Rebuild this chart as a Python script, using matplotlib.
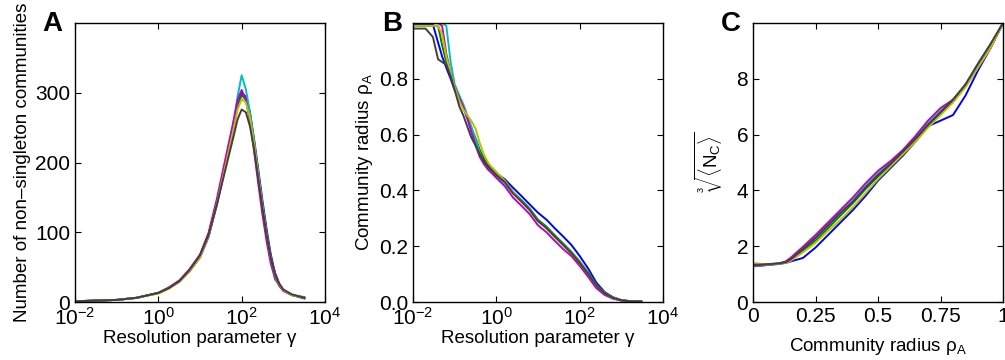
import numpy as np
import matplotlib
matplotlib.use('Agg')
import matplotlib.pyplot as plt
from matplotlib.ticker import LogLocator, LogFormatterMathtext, NullLocator

plt.rcParams['font.family'] = ['Liberation Sans', 'DejaVu Sans']
plt.rcParams['mathtext.fontset'] = 'custom'
plt.rcParams['mathtext.rm'] = 'Liberation Sans'
plt.rcParams['mathtext.it'] = 'Liberation Sans:italic'
plt.rcParams['mathtext.bf'] = 'Liberation Sans:bold'

# MATLAB-ish line colours, one per run
colors = {'blue': (0, 0, 1), 'green': (0, 0.5, 0), 'cyan': (0, 0.75, 0.75),
          'magenta': (0.75, 0, 0.75), 'yellow': (0.75, 0.75, 0), 'black': (0.25, 0.25, 0.25)}

# ---- panel A: number of non-singleton communities vs gamma
gamma_a = [0.01, 0.03, 0.1, 0.3, 1, 1.8, 3.2, 5.6, 10, 16, 25, 40, 63, 80, 100, 126,
           158, 200, 250, 316, 400, 500, 630, 800, 1000, 1600, 3200]
a_blue = [1, 2, 3, 6, 13, 20, 29, 44, 64, 93, 138, 192, 248, 280, 300, 294, 272, 232, 190, 145, 103, 68, 42, 26, 17, 10, 5]
a_green = [1, 2, 3, 6, 13, 20, 30, 45, 66, 96, 141, 196, 250, 281, 297, 290, 266, 226, 182, 137, 96, 62, 38, 24, 16, 10, 6]
a_cyan = [1, 2, 3, 6, 13, 20, 30, 45, 65, 95, 140, 196, 255, 295, 325, 305, 272, 228, 182, 136, 94, 60, 32, 26, 17, 10, 6]
a_magenta = [1, 2, 3, 6, 13, 21, 31, 47, 68, 99, 146, 203, 258, 290, 304, 290, 260, 215, 170, 125, 86, 55, 35, 23, 16, 10, 7]
a_yellow = [1, 2, 3, 6, 12, 19, 29, 44, 64, 94, 139, 193, 246, 276, 291, 286, 264, 226, 183, 138, 97, 63, 39, 25, 17, 10, 6]
a_black = [1, 2, 3, 6, 13, 20, 30, 46, 67, 96, 138, 188, 236, 262, 276, 272, 252, 218, 177, 134, 95, 63, 40, 26, 18, 11, 6]

# ---- panel B: community radius vs gamma
gamma_b = [0.01, 0.02, 0.03, 0.04, 0.05, 0.063, 0.08, 0.1, 0.13, 0.16, 0.2, 0.25, 0.32, 0.4,
           0.5, 0.63, 0.8, 1, 1.6, 2.5, 4, 6.3, 10, 16, 25, 40, 63, 100, 160, 250, 400,
           630, 1000, 1600, 3000]
b_blue = [0.995, 0.995, 0.995, 0.93, 0.88, 0.84, 0.80, 0.76, 0.72, 0.70, 0.66, 0.62, 0.58, 0.54,
          0.51, 0.49, 0.475, 0.46, 0.44, 0.41, 0.38, 0.35, 0.32, 0.295, 0.265, 0.235, 0.205, 0.165, 0.12, 0.07, 0.035,
          0.017, 0.007, 0.003, 0.002]
b_green = [0.99, 0.99, 0.99, 0.99, 0.92, 0.86, 0.81, 0.77, 0.73, 0.70, 0.665, 0.625, 0.585, 0.545,
           0.515, 0.495, 0.48, 0.465, 0.435, 0.395, 0.365, 0.335, 0.295, 0.27, 0.24, 0.21, 0.18, 0.145, 0.105, 0.063, 0.032,
           0.015, 0.006, 0.003, 0.002]
b_cyan = [1.0, 1.0, 1.0, 1.0, 1.0, 0.99, 0.86, 0.78, 0.74, 0.71, 0.67, 0.63, 0.58, 0.535,
          0.5, 0.48, 0.465, 0.45, 0.425, 0.39, 0.36, 0.33, 0.29, 0.265, 0.235, 0.205, 0.175, 0.14, 0.1, 0.06, 0.03,
          0.014, 0.006, 0.003, 0.002]
b_magenta = [1.0, 1.0, 1.0, 1.0, 0.99, 0.89, 0.82, 0.77, 0.73, 0.70, 0.66, 0.61, 0.56, 0.52,
             0.495, 0.475, 0.46, 0.445, 0.415, 0.375, 0.345, 0.315, 0.275, 0.25, 0.22, 0.19, 0.165, 0.13, 0.09, 0.05, 0.025,
             0.012, 0.005, 0.003, 0.002]
b_yellow = [0.99, 0.99, 0.99, 0.99, 0.96, 0.88, 0.82, 0.77, 0.72, 0.69, 0.67, 0.65, 0.62, 0.57,
            0.53, 0.5, 0.48, 0.465, 0.435, 0.395, 0.36, 0.33, 0.29, 0.265, 0.235, 0.205, 0.175, 0.14, 0.1, 0.06, 0.03,
            0.015, 0.006, 0.003, 0.002]
b_black = [0.98, 0.98, 0.95, 0.87, 0.86, 0.85, 0.81, 0.76, 0.70, 0.67, 0.63, 0.59, 0.56, 0.53,
           0.505, 0.485, 0.47, 0.455, 0.43, 0.39, 0.36, 0.33, 0.29, 0.265, 0.235, 0.205, 0.175, 0.14, 0.1, 0.06, 0.03,
           0.015, 0.006, 0.003, 0.002]

# ---- panel C: cube root of mean community size vs radius
rho_c = [0, 0.05, 0.1, 0.13, 0.15, 0.2, 0.25, 0.3, 0.35, 0.4, 0.45, 0.5, 0.55, 0.6, 0.65,
         0.7, 0.75, 0.8, 0.85, 0.9, 0.95, 1.0]
c_blue = [1.28, 1.32, 1.36, 1.4, 1.45, 1.58, 1.95, 2.4, 2.85, 3.3, 3.8, 4.35, 4.8, 5.25, 5.75, 6.3, 6.5, 6.7, 7.4, 8.3, 9.1, 10]
c_green = [1.32, 1.35, 1.38, 1.42, 1.5, 1.85, 2.2, 2.65, 3.1, 3.55, 4.05, 4.5, 4.9, 5.35, 5.8, 6.3, 6.75, 7.2, 7.75, 8.5, 9.2, 10]
c_cyan = [1.28, 1.32, 1.37, 1.42, 1.52, 1.92, 2.3, 2.75, 3.2, 3.65, 4.15, 4.6, 5.0, 5.45, 5.9, 6.4, 6.85, 7.25, 7.8, 8.5, 9.2, 10]
c_magenta = [1.3, 1.33, 1.38, 1.45, 1.58, 1.98, 2.4, 2.85, 3.3, 3.75, 4.25, 4.7, 5.05, 5.45, 5.95, 6.5, 6.95, 7.25, 7.75, 8.4, 9.1, 10]
c_yellow = [1.4, 1.34, 1.37, 1.4, 1.47, 1.78, 2.12, 2.55, 2.95, 3.4, 3.9, 4.4, 4.85, 5.3, 5.75, 6.25, 6.7, 7.15, 7.7, 8.4, 9.1, 10]
c_black = [1.33, 1.35, 1.38, 1.42, 1.52, 1.9, 2.3, 2.75, 3.2, 3.6, 4.1, 4.55, 4.95, 5.4, 5.85, 6.35, 6.8, 7.25, 7.8, 8.55, 9.25, 10]

order = ['blue', 'green', 'cyan', 'magenta', 'yellow', 'black']
series_a = dict(zip(order, [a_blue, a_green, a_cyan, a_magenta, a_yellow, a_black]))
series_b = dict(zip(order, [b_blue, b_green, b_cyan, b_magenta, b_yellow, b_black]))
series_c = dict(zip(order, [c_blue, c_green, c_cyan, c_magenta, c_yellow, c_black]))

fig = plt.figure(figsize=(10.05, 3.6), dpi=100)
W, H = 1005, 360
def box(l, r, t, b):
    return [l / W, 1 - b / H, (r - l) / W, (b - t) / H]

axA = fig.add_axes(box(75, 325, 23, 302))
axB = fig.add_axes(box(413, 663, 23, 302))
axC = fig.add_axes(box(753, 1003, 23, 302))

for ax in (axA, axB, axC):
    ax.tick_params(direction='in', top=True, right=True, labelsize=15, length=4, width=0.8)
    for s in ax.spines.values():
        s.set_linewidth(1.0)

for name in order:
    axA.plot(gamma_a, series_a[name], color=colors[name], lw=1.4)
    axB.plot(gamma_b, series_b[name], color=colors[name], lw=1.4)
    axC.plot(rho_c, series_c[name], color=colors[name], lw=1.4)

lab = 13.5
for ax in (axA, axB):
    ax.set_xscale('log')
    ax.set_xlim(1e-2, 1e4)
    ax.xaxis.set_major_locator(LogLocator(base=100))
    ax.xaxis.set_major_formatter(LogFormatterMathtext())
    ax.xaxis.set_minor_locator(NullLocator())
    ax.set_xlabel('Resolution parameter γ', fontsize=lab, labelpad=1)

axA.set_ylim(0, 400)
axA.set_yticks([0, 100, 200, 300])
axA.set_ylabel('Number of non–singleton communities', fontsize=lab, labelpad=3)

axB.set_ylim(0, 1)
axB.set_yticks([0, 0.2, 0.4, 0.6, 0.8])
axB.set_ylabel(r'Community radius ρ$_{\rm A}$', fontsize=lab, labelpad=3)

axC.set_xlim(0, 1)
axC.set_ylim(0, 10)
axC.set_xticks([0, 0.25, 0.5, 0.75, 1])
axC.set_xticklabels(['0', '0.25', '0.5', '0.75', '1'])
axC.set_yticks([0, 2, 4, 6, 8])
axC.set_xlabel(r'Community radius ρ$_{\rm A}$', fontsize=lab, labelpad=7)
axC.set_ylabel(r'$\sqrt[3]{\langle \mathrm{N}_\mathrm{C} \rangle}$', fontsize=lab, labelpad=8)

for x, letter in [(42, 'A'), (382, 'B'), (721, 'C')]:
    fig.text(x / W, 1 - 31 / H, letter, fontsize=20, fontweight='bold', ha='left', va='baseline')

fig.savefig('out.png', dpi=100)
